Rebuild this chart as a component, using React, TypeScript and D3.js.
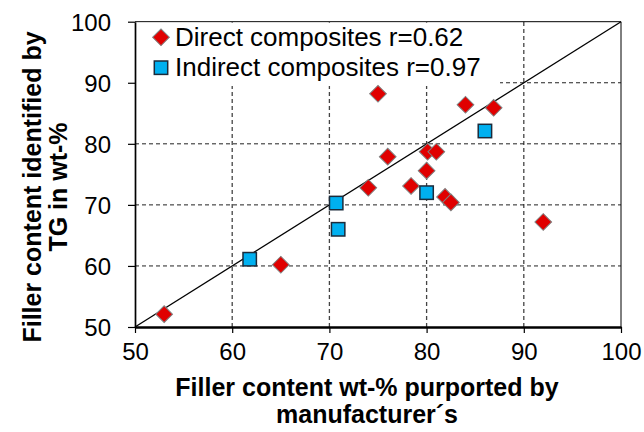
import React from "react";
import { useEffect, useRef } from "react";
import * as d3 from "d3";

// values
const directX = [53, 65, 74, 75, 76, 78.4, 80, 80.1, 81, 81.9, 82.5, 84, 86.9, 92];
const directY = [52.1, 60.2, 72.8, 88.2, 77.9, 73.1, 75.6, 78.7, 78.7, 71.3, 70.4, 86.4, 85.9, 67.2];
const indirectX = [61.8, 70.7, 70.9, 80, 86];
const indirectY = [61.1, 70.3, 66.0, 72.0, 82.1];

const ticks = [50, 60, 70, 80, 90, 100];
const gridTicks = [60, 70, 80, 90];
const legendLabels = ["Direct composites r=0.62", "Indirect composites r=0.97"];
const xTitle = ["Filler content wt-% purported by", "manufacturer\u00b4s"];
const yTitle = ["Filler content identified by", "TG in wt-%"];

const W = 644;
const H = 432;
const font = "'Liberation Sans', Arial, sans-serif";

const App = () => {
  const canvas = useRef(null);

  useEffect(() => {
    const svg = d3.select(canvas.current);
    svg.selectAll("*").remove();

    const xscale = d3.scaleLinear().domain([50, 100]).range([135, 621]);
    const yscale = d3.scaleLinear().domain([50, 100]).range([327, 21.7]);

    // grid
    const grid = svg.append("g");
    grid
      .selectAll("line.v")
      .data(gridTicks)
      .enter()
      .append("line")
      .attr("x1", (d) => xscale(d))
      .attr("x2", (d) => xscale(d))
      .attr("y1", yscale(50))
      .attr("y2", yscale(100))
      .attr("stroke", "#444")
      .attr("stroke-width", 1.3)
      .attr("stroke-dasharray", "4,3");
    grid
      .selectAll("line.h")
      .data(gridTicks)
      .enter()
      .append("line")
      .attr("x1", xscale(50))
      .attr("x2", xscale(100))
      .attr("y1", (d) => yscale(d))
      .attr("y2", (d) => yscale(d))
      .attr("stroke", "#222")
      .attr("stroke-width", 1)
      .attr("stroke-dasharray", "4,3");

    // plot border (top/right)
    svg
      .append("path")
      .attr("d", `M${xscale(50)},${yscale(100)}H${xscale(100)}V${yscale(50)}`)
      .attr("fill", "none")
      .attr("stroke", "#000")
      .attr("stroke-width", 1);

    // legend background hides grid
    svg
      .append("rect")
      .attr("x", xscale(50) + 1)
      .attr("y", yscale(100) + 1)
      .attr("width", 499 - xscale(50))
      .attr("height", 85 - yscale(100))
      .attr("fill", "#fff");

    // diagonal
    svg
      .append("line")
      .attr("x1", xscale(50))
      .attr("y1", yscale(50))
      .attr("x2", xscale(100))
      .attr("y2", yscale(100))
      .attr("stroke", "#000")
      .attr("stroke-width", 1.3);

    // axes
    const xAxis = d3.axisBottom(xscale).tickValues(ticks).tickSize(6).tickSizeOuter(0).tickFormat(d3.format("d"));
    const gx = svg.append("g").attr("transform", `translate(0,${yscale(50)})`).call(xAxis);
    gx.select(".domain").attr("stroke-width", 2.7);
    gx.selectAll(".tick line").attr("stroke-width", 1.2);
    gx.selectAll(".tick text")
      .attr("y", 33)
      .attr("dy", 0)
      .attr("font-size", 24)
      .attr("font-family", font)
      .attr("fill", "#000");

    const yAxis = d3.axisLeft(yscale).tickValues(ticks).tickSize(7).tickSizeOuter(0).tickFormat(d3.format("d"));
    const gy = svg.append("g").attr("transform", `translate(${xscale(50)},0)`).call(yAxis);
    gy.select(".domain").attr("stroke-width", 1.7);
    gy.selectAll(".tick line").attr("stroke-width", 1.2);
    gy.selectAll(".tick text")
      .attr("x", -24)
      .attr("dy", "0.35em")
      .attr("font-size", 24)
      .attr("font-family", font)
      .attr("fill", "#000");
    svg.selectAll(".domain, .tick line").attr("stroke", "#000");

    const diamond = d3.symbol().type(d3.symbolSquare).size(140);

    // direct composites
    svg
      .append("g")
      .selectAll("path")
      .data(directX)
      .enter()
      .append("path")
      .attr("d", diamond)
      .attr("transform", (d, i) => `translate(${xscale(d)},${yscale(directY[i])}) rotate(45)`)
      .attr("fill", "#e00000")
      .attr("stroke", "#808080")
      .attr("stroke-width", 1);

    // indirect composites
    svg
      .append("g")
      .selectAll("rect")
      .data(indirectX)
      .enter()
      .append("rect")
      .attr("x", (d) => xscale(d) - 6.7)
      .attr("y", (d, i) => yscale(indirectY[i]) - 6.7)
      .attr("width", 13.4)
      .attr("height", 13.4)
      .attr("fill", "#00b0f0")
      .attr("stroke", "#1b2b3b")
      .attr("stroke-width", 1.5);

    // legend
    const lg = svg.append("g");
    lg.append("path")
      .attr("d", diamond)
      .attr("transform", "translate(161,37.3) rotate(45)")
      .attr("fill", "#e00000")
      .attr("stroke", "#808080");
    lg.append("rect")
      .attr("x", 161 - 6.7)
      .attr("y", 67.7 - 6.7)
      .attr("width", 13.4)
      .attr("height", 13.4)
      .attr("fill", "#00b0f0")
      .attr("stroke", "#1b2b3b")
      .attr("stroke-width", 1.5);
    lg.selectAll("text")
      .data(legendLabels)
      .enter()
      .append("text")
      .attr("x", 175)
      .attr("y", (d, i) => 46 + i * 30.4)
      .attr("font-size", 26)
      .attr("font-family", font)
      .text((d) => d);

    // axis titles
    svg
      .append("g")
      .selectAll("text")
      .data(xTitle)
      .enter()
      .append("text")
      .attr("x", 367)
      .attr("y", (d, i) => 396 + i * 27)
      .attr("text-anchor", "middle")
      .attr("font-size", 25)
      .attr("font-weight", "bold")
      .attr("font-family", font)
      .text((d) => d);

    svg
      .append("g")
      .selectAll("text")
      .data(yTitle)
      .enter()
      .append("text")
      .attr("transform", (d, i) => `translate(${41 + i * 26},187) rotate(-90)`)
      .attr("text-anchor", "middle")
      .attr("font-size", 25)
      .attr("font-weight", "bold")
      .attr("font-family", font)
      .text((d) => d);
  }, []);

  return (
    <svg
      ref={canvas}
      width={W}
      height={H}
      viewBox={`0 0 ${W} ${H}`}
      style={{ position: "absolute", left: 0, top: 0, background: "#fff" }}
    ></svg>
  );
};

export default App;
